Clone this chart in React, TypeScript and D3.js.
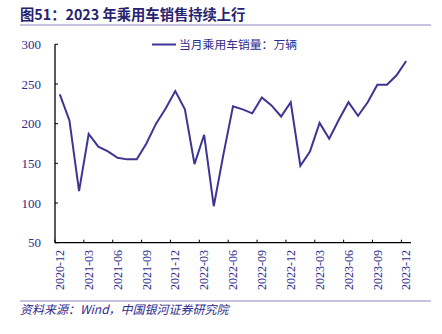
import React from "react";
import * as d3 from "d3";

const months: string[] = [];
for (let i = 0; i < 37; i++) {
  const y = 2020 + Math.floor((11 + i) / 12);
  const m = ((11 + i) % 12) + 1;
  months.push(`${y}-${String(m).padStart(2, "0")}`);
}
const sales: number[] = [
  237, 204, 115, 187, 171, 165, 157, 155, 155, 175, 200, 219,
  241, 218, 149, 186, 96, 161, 222, 218, 213, 233, 223, 209,
  227, 147, 165, 201, 181, 205, 227, 210, 227, 249, 249, 261, 279,
];
const yTicks: number[] = [50, 100, 150, 200, 250, 300];
const title = "图51：2023 年乘用车销售持续上行";
const legendLabel = "当月乘用车销量：万辆";
const source = "资料来源：Wind，中国银河证券研究院";

export default function App() {
  const W = 442, H = 334;
  const left = 55, right = 411, top = 44.3, bottom = 242.7;
  const x = d3.scaleBand<string>().domain(months).range([left, right]).padding(0);
  const y = d3.scaleLinear().domain([50, 300]).range([bottom, top]);
  const line = d3
    .line<number>()
    .x((_, i) => (x(months[i]) as number) + x.bandwidth() / 2)
    .y((d) => y(d));
  const navy = "#2e2b8c";
  const serif = "'Liberation Serif', 'Times New Roman', serif";
  const cjk = "'Noto Sans CJK SC', sans-serif";
  const tickIdx = months.map((_, i) => i).filter((i) => i % 3 === 0);
  return (
    <svg width={W} height={H} style={{ position: "absolute", left: 0, top: 0 }}>
      <rect width={W} height={H} fill="#fff" />
      <text x={20} y={20} fontSize={14.3} fontWeight="bold" fill="#27226f" fontFamily={cjk}>
        {title}
      </text>
      <line x1={20} x2={431} y1={25} y2={25} stroke="#8a85c6" strokeWidth={1} />
      {/* y axis */}
      <line x1={left} x2={left} y1={top} y2={bottom} stroke="#000" strokeWidth={1.3} />
      {yTicks.map((t) => (
        <g key={t}>
          <line x1={left} x2={left + 3} y1={y(t)} y2={y(t)} stroke="#000" strokeWidth={1} />
          <text x={41} y={y(t)} dy="0.35em" textAnchor="end" fontSize={13} fill={navy} fontFamily={serif}>
            {t}
          </text>
        </g>
      ))}
      {/* x axis */}
      <line x1={left} x2={right} y1={bottom} y2={bottom} stroke="#000" strokeWidth={1.3} />
      {tickIdx.map((i) => (
        <line key={i} x1={x(months[i]) as number} x2={x(months[i]) as number} y1={bottom} y2={bottom - 3} stroke="#000" strokeWidth={1} />
      ))}
      {tickIdx.map((i) => {
        const cx = (x(months[i]) as number) + x.bandwidth() / 2;
        return (
          <text key={"l" + i} transform={`translate(${cx},250) rotate(-90)`} textAnchor="end" dy="0.35em" fontSize={12} fill={navy} fontFamily={serif}>
            {months[i]}
          </text>
        );
      })}
      <path d={line(sales) as string} fill="none" stroke="#3d3594" strokeWidth={2} strokeLinejoin="miter" />
      {/* legend */}
      <line x1={152} x2={176} y1={44.5} y2={44.5} stroke="#3d3594" strokeWidth={2} />
      <text x={179} y={49} fontSize={11.8} fill={navy} fontFamily={cjk}>
        {legendLabel}
      </text>
      <line x1={20} x2={431} y1={301} y2={301} stroke="#8a85c6" strokeWidth={1} />
      <text x={20} y={314} fontSize={12} fontStyle="italic" fill={navy} fontFamily={cjk}>
        {source}
      </text>
    </svg>
  );
}
